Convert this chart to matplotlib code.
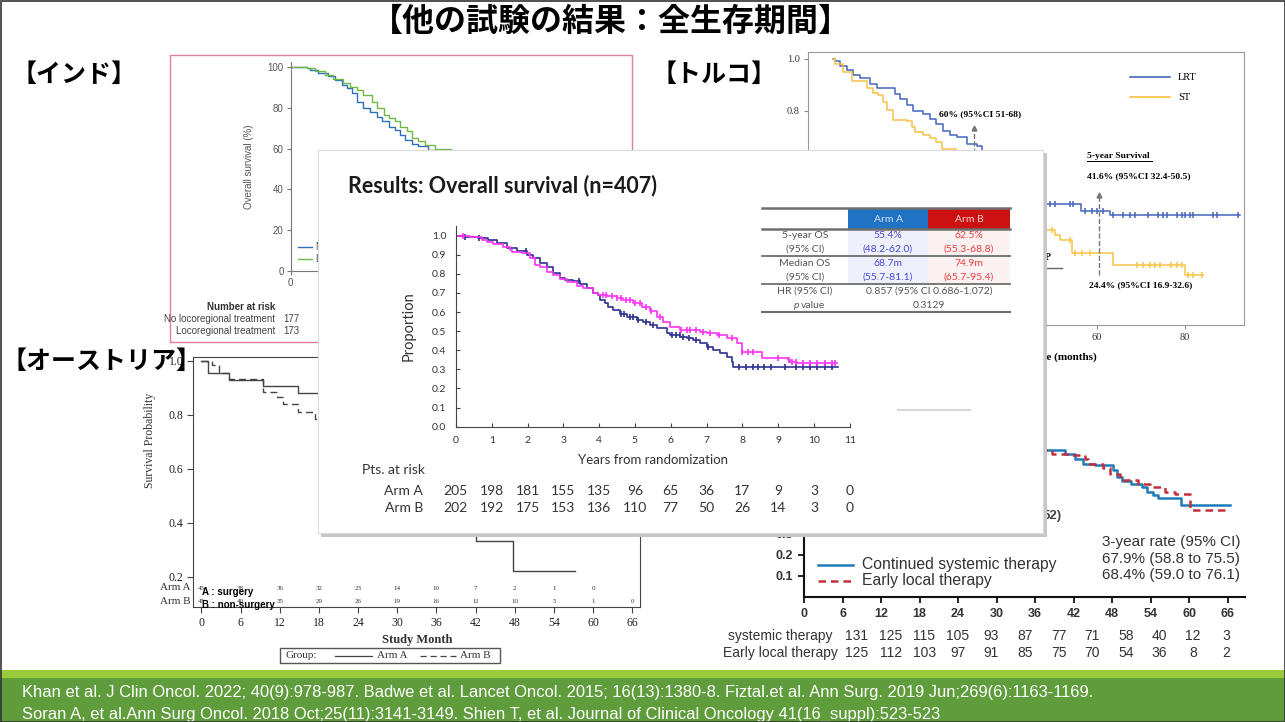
import numpy as np
import matplotlib.pyplot as plt
from matplotlib.lines import Line2D
from matplotlib.patches import Rectangle

W, H = 1285, 722

JP = ['Noto Sans CJK JP', 'DejaVu Sans']
SERIF = ['Liberation Serif', 'DejaVu Serif']
ARIAL = ['Liberation Sans', 'DejaVu Sans']
CAL = ['Lato', 'DejaVu Sans']

# ---- India (Badwe 2015), overall survival in %, months ----
india_no_t = [0, 3.5, 4.2, 6.0, 8.2, 9.7, 11.2, 12.3, 13.3, 14.4, 15.9, 17.4, 18.8, 19.9,
              21.4, 22.8, 23.9, 25.0, 26.5, 27.9, 30.1, 34, 38, 44]
india_no_s = [100, 99.7, 98.5, 97.4, 95.8, 93.7, 91.2, 89.6, 87.2, 83.1, 79.9, 78.2, 75.8, 73.4,
              70.9, 69.3, 66.8, 64.4, 62.3, 61.2, 59.6, 55, 50, 45]
india_lrt_t = [0, 3.5, 5.3, 7.5, 9.3, 11.5, 13.0, 14.4, 15.9, 17.7, 18.8, 20.3, 21.4, 22.8,
               23.9, 25.4, 26.5, 27.9, 29.4, 31.6, 35, 40, 46]
india_lrt_s = [100, 99.7, 98.0, 96.4, 94.2, 92.5, 90.4, 88.8, 86.4, 83.1, 79.9, 76.6, 75.0, 73.7,
               70.9, 68.5, 65.2, 63.6, 62.0, 60.0, 57, 52, 47]
india_end = 48
india_risk_labels = ['No locoregional treatment', 'Locoregional treatment']
india_risk_n = [177, 173]

# ---- Turkey (Soran 2018), months ----
lrt_t = [0, 0.5, 1.7, 3.3, 4.7, 6.2, 8.5, 10.0, 14.2, 15.3, 16.8, 18.3, 20.6, 22.1, 23.6, 25.1,
         26.7, 28.2, 30.5, 32.7, 33.9, 36, 39, 42, 45, 47.8, 48.6, 56.4, 63.0]
lrt_s = [1.0, 0.99, 0.972, 0.955, 0.936, 0.927, 0.904, 0.887, 0.865, 0.846, 0.821, 0.798, 0.789,
         0.769, 0.75, 0.724, 0.705, 0.699, 0.673, 0.663, 0.647, 0.62, 0.58, 0.54, 0.5, 0.463,
         0.441, 0.415, 0.399]
lrt_end = 92.6
lrt_cens = [49.4, 50.5, 53.9, 54.7, 57.3, 58.9, 60.0, 61.5, 63.8, 66.0, 67.6, 68.7, 71.7, 74.0,
            75.1, 75.9, 78.2, 79.3, 80.1, 81.2, 82.0, 86.5, 87.3, 92.2]
st_t = [0, 0.5, 2.4, 4.3, 7.7, 9.2, 10.4, 11.5, 12.3, 13.8, 16.8, 18.0, 18.7, 20.6, 22.1, 23.6,
        24.8, 28, 32, 36, 40, 44, 47.8, 50.5, 51.7, 54.5, 63.8, 80.1]
st_s = [1.0, 0.981, 0.95, 0.914, 0.886, 0.867, 0.86, 0.835, 0.803, 0.764, 0.76, 0.738, 0.717,
        0.707, 0.694, 0.681, 0.653, 0.6, 0.55, 0.5, 0.45, 0.39, 0.341, 0.322, 0.303, 0.252,
        0.207, 0.168]
st_end = 84.2
st_cens = [49.8, 53.9, 55.1, 56.6, 58.5, 69.1, 70.6, 72.1, 73.3, 74.4, 77.0, 78.2, 79.3, 80.8,
           82.0, 83.9]

# ---- Austria (Fitzal 2019), months ----
aus_a_t = [0, 1.05, 4.26, 9.47, 14.8, 20, 24, 28, 32, 36, 40, 42, 47.8]
aus_a_s = [1.0, 0.953, 0.93, 0.907, 0.881, 0.82, 0.74, 0.66, 0.58, 0.5, 0.41, 0.332, 0.222]
aus_a_end = 57.2
aus_b_t = [0, 1.56, 2.73, 4.26, 9.47, 11.5, 12.5, 14.8, 17.4, 20, 25, 30, 36, 42, 48, 54]
aus_b_s = [1.0, 0.984, 0.953, 0.934, 0.884, 0.866, 0.838, 0.81, 0.785, 0.76, 0.7, 0.63, 0.56,
           0.5, 0.46, 0.43]
aus_b_end = 60
aus_months = list(range(0, 67, 6))
aus_risk_a = [45, 38, 36, 32, 23, 14, 10, 7, 2, 1, 0]
aus_risk_b = [45, 40, 35, 29, 26, 19, 16, 11, 10, 5, 1, 0]

# ---- Japan (JCOG1017), months ----
sys_t = [0, 6, 12, 18, 24, 30, 34, 37.5, 40.7, 42.2, 43.5, 45.3, 48.2, 48.7, 49.5, 51.0, 52.6,
         53.4, 54.4, 55.2, 58.8]
sys_s = [1.0, 0.97, 0.92, 0.85, 0.79, 0.74, 0.71, 0.695, 0.676, 0.655, 0.632, 0.624, 0.6, 0.568,
         0.552, 0.537, 0.521, 0.498, 0.482, 0.467, 0.435]
sys_end = 66.4
loc_t = [0, 6, 12, 18, 24, 30, 34, 37.5, 38.6, 41.7, 43.8, 44.3, 46.6, 47.7, 49.2, 52.1, 53.9,
         56.2, 57.8, 60.1]
loc_s = [1.0, 0.96, 0.91, 0.86, 0.8, 0.75, 0.71, 0.698, 0.679, 0.671, 0.656, 0.632, 0.613, 0.584,
         0.556, 0.537, 0.521, 0.497, 0.489, 0.413]
loc_end = 65.8
jp_risk_sys = [131, 125, 115, 105, 93, 87, 77, 71, 58, 40, 12, 3]
jp_risk_loc = [125, 112, 103, 97, 91, 85, 75, 70, 54, 36, 8, 2]

# ---- Results: overall survival (n=407), years ----
armA_t = [0, 0.25, 0.63, 0.91, 1.14, 1.42, 1.70, 1.98, 2.16, 2.35, 2.54, 2.72, 2.91, 3.05, 3.28,
          3.47, 3.65, 3.84, 3.98, 4.03, 4.16, 4.26, 4.40, 4.58, 4.77, 5.05, 5.23, 5.42, 5.61, 5.89,
          5.98, 6.26, 6.45, 6.63, 6.82, 7.00, 7.19, 7.38, 7.56, 7.70, 7.75]
armA_s = [1.0, 0.995, 0.99, 0.978, 0.96, 0.937, 0.92, 0.899, 0.882, 0.855, 0.838, 0.803, 0.777,
          0.768, 0.763, 0.746, 0.725, 0.698, 0.69, 0.664, 0.646, 0.629, 0.611, 0.588, 0.576, 0.559,
          0.55, 0.532, 0.515, 0.489, 0.48, 0.472, 0.463, 0.454, 0.437, 0.419, 0.402, 0.384, 0.367,
          0.341, 0.315]
armA_end = 10.68
armA_cens = [0.25, 0.65, 1.95, 3.45, 4.6, 4.7, 4.85, 4.95, 5.1, 5.3, 5.5, 6.05, 6.15, 6.25, 6.35,
             6.5, 6.7, 7.05, 7.9, 8.1, 8.3, 8.45, 8.6, 8.8, 9.2, 9.5, 9.7, 9.9, 10.1, 10.3, 10.5]
armB_t = [0, 0.39, 0.72, 0.86, 1.05, 1.32, 1.51, 1.56, 1.84, 2.07, 2.21, 2.35, 2.54, 2.72, 2.91,
          3.09, 3.37, 3.56, 3.84, 3.98, 4.21, 4.49, 4.68, 4.96, 5.19, 5.42, 5.61, 5.79, 5.98, 6.26,
          6.82, 7.0, 7.29, 7.56, 7.84, 7.98, 8.54, 9.29, 9.33, 9.52]
armB_s = [1.0, 0.995, 0.978, 0.965, 0.955, 0.943, 0.925, 0.913, 0.908, 0.882, 0.847, 0.838, 0.812,
          0.795, 0.773, 0.759, 0.738, 0.725, 0.698, 0.69, 0.686, 0.676, 0.664, 0.646, 0.629, 0.606,
          0.576, 0.55, 0.524, 0.506, 0.498, 0.489, 0.48, 0.463, 0.437, 0.393, 0.358, 0.35, 0.338,
          0.332]
armB_end = 10.64
armB_cens = [0.2, 4.1, 4.2, 4.35, 4.5, 4.6, 4.75, 4.85, 5.0, 5.15, 5.3, 5.45, 5.7, 6.3, 6.45, 6.55,
             6.7, 6.9, 7.1, 7.35, 7.7, 8.0, 8.15, 8.3, 9.0, 9.3, 9.4, 9.5, 9.7, 9.9, 10.1, 10.3,
             10.5, 10.6]
years = list(range(0, 12))
risk_a = [205, 198, 181, 155, 135, 96, 65, 36, 17, 9, 3, 0]
risk_b = [202, 192, 175, 153, 136, 110, 77, 50, 26, 14, 3, 0]

tbl_rows = [('5-year OS', '(95% CI)'), ('Median OS', '(95% CI)')]
tbl_a = [('55.4%', '(48.2-62.0)'), ('68.7m', '(55.7-81.1)')]
tbl_b = [('62.5%', '(55.3-68.8)'), ('74.9m', '(65.7-95.4)')]
hr_text = '0.857 (95% CI 0.686-1.072)'
p_text = '0.3129'

refs = ['Khan et al. J Clin Oncol. 2022; 40(9):978-987. Badwe et al. Lancet Oncol. 2015; '
        '16(13):1380-8. Fiztal.et al. Ann Surg. 2019 Jun;269(6):1163-1169.',
        'Soran A, et al.Ann Surg Oncol. 2018 Oct;25(11):3141-3149. Shien T, et al. '
        'Journal of Clinical Oncology 41(16_suppl):523-523']


def box(x0, y0, x1, y1):
    return [x0 / W, 1 - y1 / H, (x1 - x0) / W, (y1 - y0) / H]


def put(x, y, s, **kw):
    kw.setdefault('va', 'center')
    return fig.text(x / W, 1 - y / H, s, **kw)


def hline(x0, x1, y, **kw):
    fig.add_artist(Line2D([x0 / W, x1 / W], [1 - y / H] * 2, **kw))


def rect(x0, y0, x1, y1, **kw):
    fig.add_artist(Rectangle((x0 / W, 1 - y1 / H), (x1 - x0) / W, (y1 - y0) / H, **kw))


def surv_at(t, s, when):
    idx = np.searchsorted(t, when, side='right') - 1
    return np.asarray(s)[idx]


def km(ax, t, s, t_end, cens=None, ms=4, **kw):
    ax.step(list(t) + [t_end], list(s) + [s[-1]], where='post', **kw)
    if cens:
        ax.plot(cens, surv_at(t, s, cens), ls='none', marker='|', ms=ms,
                mew=kw.get('lw', 1), color=kw['color'])


fig = plt.figure(figsize=(W / 100, H / 100), dpi=100)

# ================= India =================
rect(170, 55, 632, 342, fill=False, ec='#e07f9c', lw=1, zorder=1)
ax = fig.add_axes(box(290.7, 62, 630, 270.8))
ax.set_facecolor('none')
ax.set_xlim(0, 74.2)
ax.set_ylim(0, 102.6)
km(ax, india_no_t, india_no_s, india_end, color='#2f6fc0', lw=1)
km(ax, india_lrt_t, india_lrt_s, india_end, color='#6fb944', lw=1)
for sp in ['top', 'right']:
    ax.spines[sp].set_visible(False)
for sp in ['left', 'bottom']:
    ax.spines[sp].set_color('#777777')
ax.set_yticks([0, 20, 40, 60, 80, 100])
ax.set_xticks([0, 12, 24, 36, 48, 60, 72])
ax.tick_params(length=3, color='#777777', labelsize=7, labelcolor='#555555', pad=2)
for lab in ax.get_xticklabels() + ax.get_yticklabels():
    lab.set_family(ARIAL)
ax.set_ylabel('Overall survival (%)', fontsize=7, color='#555555', family=ARIAL, labelpad=10)
hline(298, 312, 247, color='#2f6fc0', lw=1, zorder=2)
hline(298, 312, 259, color='#6fb944', lw=1, zorder=2)
put(316, 247, 'No locoregional treatment', fontsize=7, color='#444444', family=ARIAL)
put(316, 259, 'Locoregional treatment', fontsize=7, color='#444444', family=ARIAL)
put(275, 307, 'Number at risk', fontsize=7, fontweight='bold', ha='right', color='#333333',
    family=ARIAL)
for i, (lab, n) in enumerate(zip(india_risk_labels, india_risk_n)):
    put(275, 319 + 12 * i, lab, fontsize=7, ha='right', color='#444444', family=ARIAL)
    put(291, 319 + 12 * i, str(n), fontsize=7, ha='center', color='#444444', family=ARIAL)

# ================= Turkey =================
ax = fig.add_axes(box(808, 52, 1244, 325))
ax.set_xlim(-5.6, 93.5)
ax.set_ylim(-0.024, 1.026)
km(ax, lrt_t, lrt_s, lrt_end, lrt_cens, ms=5, color='#4565bd', lw=1.1)
km(ax, st_t, st_s, st_end, st_cens, ms=5, color='#f7c247', lw=1.1)
for sp in ax.spines.values():
    sp.set_color('#9a9a9a')
ax.set_yticks(np.arange(0, 1.01, 0.2))
ax.set_yticklabels(['%.1f' % v for v in np.arange(0, 1.01, 0.2)])
ax.set_xticks([0, 20, 40, 60, 80])
ax.tick_params(length=3, color='#888888', labelsize=7.5, labelcolor='#333333', pad=3)
for lab in ax.get_xticklabels() + ax.get_yticklabels():
    lab.set_family(SERIF)
ax.plot([32.2, 32.2], [0.58, 0.735], ls='--', color='#777777', lw=1)
ax.plot([32.2], [0.735], marker='^', ms=3.5, color='#777777')
ax.plot([60.5, 60.5], [0.17, 0.477], ls='--', color='#777777', lw=1)
ax.plot([60.5], [0.477], marker='^', ms=3.5, color='#777777')
put(1097, 357, 'Time (months)', fontsize=8, fontweight='bold', ha='right', family=SERIF)
hline(1130, 1170, 77, color='#4565bd', lw=1.2)
hline(1130, 1170, 97, color='#f7c247', lw=1.2)
put(1178, 77, 'LRT', fontsize=7.5, family=SERIF)
put(1178, 97, 'ST', fontsize=7.5, family=SERIF)
put(980, 114, '60% (95%CI 51-68)', fontsize=6.8, fontweight='bold', ha='center', family=SERIF)
put(1087, 156, '5-year Survival', fontsize=6.8, fontweight='bold', family=SERIF)
hline(1087, 1152, 161, color='black', lw=0.7)
put(1087, 176, '41.6% (95%CI 32.4-50.5)', fontsize=6.8, fontweight='bold', family=SERIF)
put(1089, 285, '24.4% (95%CI 16.9-32.6)', fontsize=6.8, fontweight='bold', family=SERIF)
put(1045, 258, 'P', fontsize=7, fontweight='bold', family=SERIF)
hline(1040, 1062, 268, color='#666666', lw=1)

# ================= Austria =================
ax = fig.add_axes(box(193, 357, 640, 607))
ax.set_xlim(-1.3, 67.2)
ax.set_ylim(0.088, 1.0137)
km(ax, aus_a_t, aus_a_s, aus_a_end, color='#444444', lw=1)
km(ax, aus_b_t, aus_b_s, aus_b_end, color='#444444', lw=1, dashes=(5, 3))
for sp in ax.spines.values():
    sp.set_color('#444444')
ax.set_yticks([0.2, 0.4, 0.6, 0.8, 1.0])
ax.set_yticklabels(['0.2', '0.4', '0.6', '0.8', '1.0'])
ax.set_xticks(aus_months)
ax.tick_params(length=4, color='#444444', labelsize=8.5, labelcolor='#222222', pad=3)
for lab in ax.get_xticklabels() + ax.get_yticklabels():
    lab.set_family(SERIF)
for m, n in zip(aus_months, aus_risk_a):
    ax.text(m, 0.158, str(n), fontsize=5, ha='center', va='center', family=SERIF, color='#333333')
for m, n in zip(aus_months, aus_risk_b):
    ax.text(m, 0.110, str(n), fontsize=5, ha='center', va='center', family=SERIF, color='#333333')
put(190, 588, 'Arm A', fontsize=8, ha='right', family=SERIF, color='#333333')
put(190, 601, 'Arm B', fontsize=8, ha='right', family=SERIF, color='#333333')
put(202, 592, 'A : surgery', fontsize=7, fontweight='bold', family=ARIAL, zorder=4)
put(202, 605, 'B : non-surgery', fontsize=7, fontweight='bold', family=ARIAL, zorder=4)
put(150, 440, 'Survival Probability', fontsize=8.5, rotation=90, ha='center', family=SERIF,
    color='#333333')
put(417, 640, 'Study Month', fontsize=9, fontweight='bold', ha='center', family=SERIF,
    color='#333333')
rect(280, 648, 500, 663, fill=False, ec='#555555', lw=1)
put(285, 655.5, 'Group:', fontsize=8, family=SERIF, color='#333333')
hline(335, 372, 655.5, color='#444444', lw=0.9)
put(377, 655.5, 'Arm A', fontsize=8, family=SERIF, color='#333333')
hline(420, 456, 655.5, color='#444444', lw=0.9, dashes=(5, 3))
put(460, 655.5, 'Arm B', fontsize=8, family=SERIF, color='#333333')

# ================= Japan =================
ax = fig.add_axes(box(804, 386, 1245, 597))
ax.set_facecolor('none')
ax.set_xlim(0, 68.7)
ax.set_ylim(0, 1.0)
km(ax, sys_t, sys_s, sys_end, color='#1f7ab8', lw=1.8)
km(ax, loc_t, loc_s, loc_end, color='#c3303c', lw=1.8, dashes=(3, 2))
for sp in ['top', 'right']:
    ax.spines[sp].set_visible(False)
for sp in ['left', 'bottom']:
    ax.spines[sp].set_linewidth(1.5)
    ax.spines[sp].set_color('#111111')
ax.set_yticks(np.arange(0.1, 1.01, 0.1))
ax.set_yticklabels(['%.1f' % v for v in np.arange(0.1, 1.01, 0.1)])
ax.set_xticks(list(range(0, 67, 6)))
ax.tick_params(length=4, width=1.2, labelsize=9, labelcolor='#333333', pad=4)
for lab in ax.get_xticklabels() + ax.get_yticklabels():
    lab.set_family(ARIAL)
    lab.set_fontweight('bold')
put(1043, 516, '52)', fontsize=9.5, fontweight='bold', family=ARIAL, color='#444444')
put(1240, 542, '3-year rate (95% CI)', fontsize=11, ha='right', family=ARIAL, color='#333333')
put(1240, 559, '67.9% (58.8 to 75.5)', fontsize=11, ha='right', family=ARIAL, color='#333333')
put(1240, 575, '68.4% (59.0 to 76.1)', fontsize=11, ha='right', family=ARIAL, color='#333333')
hline(818, 853, 565, color='#1f7ab8', lw=1.8)
hline(818, 853, 581, color='#c3303c', lw=1.8, dashes=(3, 2))
put(862, 565, 'Continued systemic therapy', fontsize=11.3, family=ARIAL, color='#333333')
put(862, 581, 'Early local therapy', fontsize=11.3, family=ARIAL, color='#333333')
put(832, 636, 'systemic therapy', fontsize=10, ha='right', family=ARIAL, color='#333333')
put(838, 653, 'Early local therapy', fontsize=10, ha='right', family=ARIAL, color='#333333')
for i, (a, b) in enumerate(zip(jp_risk_sys, jp_risk_loc)):
    xx = 857 + 33.6 * i
    put(xx, 636, str(a), fontsize=10, ha='center', family=ARIAL, color='#333333')
    put(xx, 653, str(b), fontsize=10, ha='center', family=ARIAL, color='#333333')

# ================= Results panel (on top) =================
rect(321, 153, 1047, 537, fc='#c6c6c6', ec='none', zorder=18)
bg = fig.add_axes(box(318, 150, 1043, 533))
bg.set_zorder(20)
bg.set_xticks([])
bg.set_yticks([])
for sp in bg.spines.values():
    sp.set_color('#dcdcdc')

ax = fig.add_axes(box(455.9, 226.1, 849.7, 426.7))
ax.set_zorder(21)
ax.set_facecolor('none')
ax.set_xlim(0, 11)
ax.set_ylim(0, 1.05)
km(ax, armA_t, armA_s, armA_end, armA_cens, ms=4, color='#2e3192', lw=1.2)
km(ax, armB_t, armB_s, armB_end, armB_cens, ms=4, color='#ff33f5', lw=1.2)
for sp in ['top', 'right']:
    ax.spines[sp].set_visible(False)
for sp in ['left', 'bottom']:
    ax.spines[sp].set_color('#444444')
ax.set_xticks(years)
ax.set_yticks(np.arange(0, 1.01, 0.1))
ax.set_yticklabels(['%.1f' % v for v in np.arange(0, 1.01, 0.1)])
ax.tick_params(direction='in', length=3, color='#444444', labelsize=7.5, labelcolor='#333333',
               pad=7)
for lab in ax.get_xticklabels() + ax.get_yticklabels():
    lab.set_family(CAL)
ax.set_xlabel('Years from randomization', fontsize=9.5, family=CAL, color='#333333', labelpad=6)
ax.set_ylabel('Proportion', fontsize=10.5, family=CAL, color='#333333', labelpad=12)

Z = 25
put(348, 186, 'Results: Overall survival (n=407)', fontsize=15.5, fontweight='bold',
    family=CAL, color='#1a1a1a', zorder=Z)
put(362, 470, 'Pts. at risk', fontsize=10, family=CAL, color='#333333', zorder=Z)
put(423, 491, 'Arm A', fontsize=10, ha='right', family=CAL, color='#333333', zorder=Z)
put(423, 508, 'Arm B', fontsize=10, ha='right', family=CAL, color='#333333', zorder=Z)
for y, a, b in zip(years, risk_a, risk_b):
    xx = 455.9 + 35.8 * y
    put(xx, 491, str(a), fontsize=10, ha='center', family=CAL, color='#333333', zorder=Z)
    put(xx, 508, str(b), fontsize=10, ha='center', family=CAL, color='#333333', zorder=Z)
hline(898, 970, 410, color='#d8d8d8', lw=1.5, zorder=Z)

# summary table
rect(848, 208, 928, 229, fc='#1f72c4', ec='none', zorder=Z)
rect(928, 208, 1010, 229, fc='#cc1111', ec='none', zorder=Z)
rect(848, 229, 928, 284, fc='#eef0fb', ec='none', zorder=Z)
rect(928, 229, 1010, 284, fc='#fdf2f2', ec='none', zorder=Z)
for yy, lw in [(208, 1.8), (229, 1.8), (256, 1.3), (284, 1.3), (312, 1.5)]:
    hline(762, 1010, yy, color='#6e6e6e', lw=lw, zorder=Z + 1)
put(888, 219, 'Arm A', fontsize=7.5, ha='center', family=CAL, color='#d6e6fa', zorder=Z + 1)
put(969, 219, 'Arm B', fontsize=7.5, ha='center', family=CAL, color='#f8d2d2', zorder=Z + 1)
for i in range(2):
    y0 = 235 + 28 * i
    for j in range(2):
        put(805, y0 + 14 * j, tbl_rows[i][j], fontsize=7.5, ha='center', family=CAL,
            color='#555555', zorder=Z + 1)
        put(888, y0 + 14 * j, tbl_a[i][j], fontsize=7.5, ha='center', family=CAL,
            color='#4a4ad4', zorder=Z + 1)
        put(969, y0 + 14 * j, tbl_b[i][j], fontsize=7.5, ha='center', family=CAL,
            color='#ec3b3b', zorder=Z + 1)
put(805, 291, 'HR (95% CI)', fontsize=7.5, ha='center', family=CAL, color='#555555', zorder=Z + 1)
put(929, 291, hr_text, fontsize=7.5, ha='center', family=CAL, color='#555555', zorder=Z + 1)
put(799, 306, 'p', fontsize=7.5, ha='right', style='italic', family=CAL, color='#555555',
    zorder=Z + 1)
put(801, 306, 'value', fontsize=7.5, family=CAL, color='#555555', zorder=Z + 1)
put(929, 306, p_text, fontsize=7.5, ha='center', family=CAL, color='#555555', zorder=Z + 1)

# ================= slide text =================
put(611, 22, '【他の試験の結果：全生存期間】', fontsize=23, fontweight='bold', ha='center',
    family=JP, zorder=30)
put(11, 75, '【インド】', fontsize=18, fontweight='bold', family=JP, zorder=30)
put(651, 75, '【トルコ】', fontsize=18, fontweight='bold', family=JP, zorder=30)
put(1, 362, '【オーストリア】', fontsize=18, fontweight='bold', family=JP, zorder=30)

rect(0, 670, W, 678, fc='#9acb3a', ec='none', zorder=30)
rect(0, 678, W, H, fc='#5f9d3c', ec='none', zorder=30)
put(22, 692, refs[0], fontsize=11.9, color='white', family=ARIAL, zorder=31)
put(22, 714, refs[1], fontsize=11.9, color='white', family=ARIAL, zorder=31)
rect(0.5, 0.5, W - 0.5, H - 0.5, fill=False, ec='#333333', lw=1.2, zorder=32)

fig.savefig('out.png', dpi=100)
